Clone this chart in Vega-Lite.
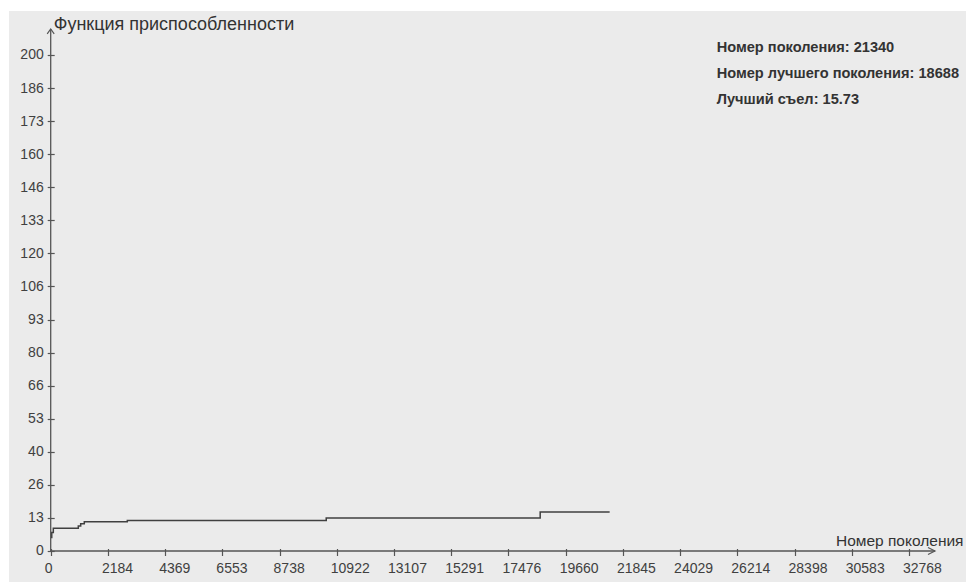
{
  "$schema": "https://vega.github.io/schema/vega-lite/v6.json",
  "autosize": {"type": "none"},
  "width": 957,
  "height": 571,
  "padding": {"left": 9, "top": 11, "right": 1, "bottom": 1},
  "background": "white",
  "config": {
    "view": {"fill": "#ebebeb", "stroke": null},
    "font": "Liberation Sans",
    "axis": {"labelOverlap": false}
  },
  "data": {
    "values": [
      {"gen": 0, "fit": 5.4},
      {"gen": 40, "fit": 7.5},
      {"gen": 100, "fit": 9.2},
      {"gen": 1054, "fit": 10.1},
      {"gen": 1145, "fit": 11.0},
      {"gen": 1283, "fit": 11.8},
      {"gen": 2925, "fit": 12.3},
      {"gen": 10519, "fit": 13.3},
      {"gen": 18688, "fit": 15.73},
      {"gen": 21340, "fit": 15.73}
    ]
  },
  "layer": [
    {
      "mark": {"type": "line", "interpolate": "step-after", "color": "#404040", "strokeWidth": 1.5},
      "encoding": {
        "x": {
          "field": "gen", "type": "quantitative",
          "scale": {"domain": [-1592, 34945], "nice": false, "zero": false},
          "axis": {
            "orient": "bottom", "offset": -33.5, "domain": false, "grid": false,
            "values": [0, 2184.5333, 4369.0667, 6553.6, 8738.1333, 10922.6667, 13107.2, 15291.7333, 17476.2667, 19660.8, 21845.3333, 24029.8667, 26214.4, 28398.9333, 30583.4667, 32768],
            "tickCount": 40,
            "labelExpr": "floor(datum.value)",
            "tickSize": 7, "tickColor": "#555555", "tickWidth": 1.2,
            "labelAlign": "left", "labelOffset": -6.5, "labelPadding": 6,
            "labelFont": "Liberation Sans", "labelFontSize": 14, "labelColor": "#404040",
            "labelOverlap": false, "labelFlush": false,
            "title": "Номер поколения", "titleFont": "Liberation Sans", "titleFontSize": 15.5, "titleFontWeight": "normal", "titleColor": "#333333",
            "titleAlign": "right", "titleBaseline": "alphabetic", "titleX": 954, "titleY": -3.2, "titleAnchor": null
          }
        },
        "y": {
          "field": "fit", "type": "quantitative",
          "scale": {"domain": [-12.5, 217.74], "nice": false, "zero": false},
          "axis": {
            "orient": "left", "offset": -45.2, "domain": false, "grid": false,
            "values": [0, 13.3333, 26.6667, 40, 53.3333, 66.6667, 80, 93.3333, 106.6667, 120, 133.3333, 146.6667, 160, 173.3333, 186.6667, 200],
            "tickCount": 40,
            "labelExpr": "floor(datum.value)",
            "tickSize": 7, "tickColor": "#555555", "tickWidth": 1.2,
            "labelPadding": 4, "labelBaseline": "middle",
            "labelFont": "Liberation Sans", "labelFontSize": 14, "labelColor": "#404040",
            "labelOverlap": false, "labelFlush": false,
            "title": "Функция приспособленности", "titleFont": "Liberation Sans", "titleFontSize": 18, "titleFontWeight": "normal", "titleColor": "#333333",
            "titleAngle": 0, "titleAlign": "left", "titleBaseline": "alphabetic", "titleX": -1, "titleY": 18.3, "titleAnchor": null
          }
        }
      }
    },
    {
      "data": {"values": [{}]},
      "mark": {"type": "rule", "color": "#555555", "strokeWidth": 1.3},
      "encoding": {
        "x": {"datum": 0, "type": "quantitative"},
        "y": {"datum": 0, "type": "quantitative"},
        "y2": {"datum": 210.5}
      }
    },
    {
      "data": {"values": [{}]},
      "mark": {"type": "rule", "color": "#555555", "strokeWidth": 1.3},
      "encoding": {
        "x": {"datum": 0, "type": "quantitative"},
        "x2": {"datum": 33761},
        "y": {"datum": 0, "type": "quantitative"}
      }
    },
    {
      "data": {"values": [{}]},
      "mark": {"type": "point", "shape": "M-1,1.4L0,0L1,1.4", "size": 49, "filled": false, "stroke": "#555555", "strokeWidth": 1.2, "opacity": 1},
      "encoding": {
        "x": {"datum": 0, "type": "quantitative"},
        "y": {"datum": 210.5, "type": "quantitative"}
      }
    },
    {
      "data": {"values": [{}]},
      "mark": {"type": "point", "shape": "M-2,-1L0,0L-2,1", "size": 49, "filled": false, "stroke": "#555555", "strokeWidth": 1.2, "opacity": 1},
      "encoding": {
        "x": {"datum": 33761, "type": "quantitative"},
        "y": {"datum": 0, "type": "quantitative"}
      }
    },
    {
      "data": {"values": [{}]},
      "mark": {
        "type": "text",
        "text": ["Номер поколения: 21340", "Номер лучшего поколения: 18688", "Лучший съел: 15.73"],
        "align": "left", "baseline": "alphabetic", "lineHeight": 26,
        "font": "Liberation Sans", "fontWeight": "bold", "fontSize": 14.6, "color": "#333333"
      },
      "encoding": {
        "x": {"datum": 25427, "type": "quantitative"},
        "y": {"datum": 201.4, "type": "quantitative"}
      }
    }
  ]
}
